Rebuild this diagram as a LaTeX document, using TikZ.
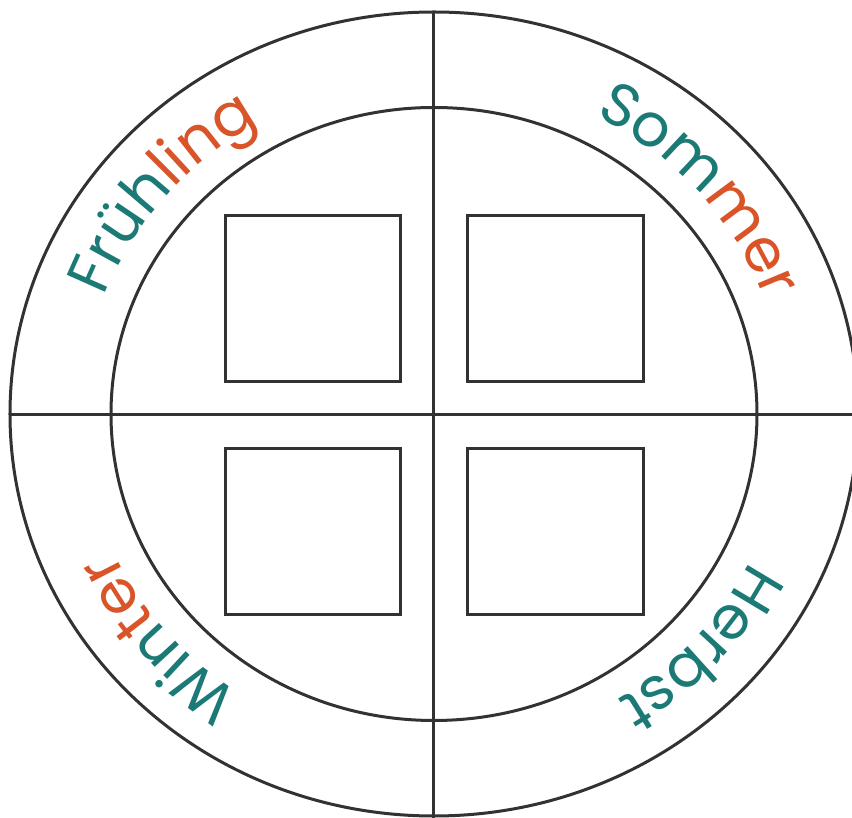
\documentclass[tikz,border=0pt]{standalone}
\usepackage{fontspec}
\newfontfamily\handfnt{Poppins}
\usetikzlibrary{decorations.text}
\definecolor{tealc}{RGB}{28,122,118}
\definecolor{orc}{RGB}{217,84,40}
\definecolor{linec}{RGB}{50,50,50}
\newcommand\hfT{\handfnt\fontsize{60}{62}\selectfont\color{tealc}}
\newcommand\hfO{\handfnt\fontsize{60}{62}\selectfont\color{orc}}
\begin{document}
\begin{tikzpicture}[x=1pt,y=1pt,
  ringline/.style={draw=linec,line width=3pt},
  box/.style={draw=linec,line width=3pt,minimum width=175pt,minimum height=166pt,inner sep=0pt},
  season/.style={decorate,decoration={text along path,text align=center,text={#1}}}]
\useasboundingbox (-434,-404) rectangle (418,414);
\coordinate (c) at (0,0);
\draw[ringline] (c) ellipse [x radius=424, y radius=402];
\draw[ringline] (c) ellipse [x radius=323, y radius=306.5];
\coordinate (top) at (0,402);
\coordinate (bot) at (0,-410);
\coordinate (lft) at (-424,-1);
\coordinate (rgt) at (424,-1);
\draw[ringline] (top) -- (bot);
\draw[ringline] (lft) -- (rgt);
\node[box] (b1) at (-120.5,115) {};
\node[box] (b2) at (121.5,115) {};
\node[box] (b3) at (-120.5,-118) {};
\node[box] (b4) at (121.5,-118) {};
\path[season={|\hfT|Früh|\hfO|ling}] (178:352 and 335) arc[start angle=178, end angle=102, x radius=352, y radius=335];
\path[season={|\hfT|Som|\hfO|mer}] (79:352 and 335) arc[start angle=79, end angle=3, x radius=352, y radius=335];
\path[season={|\hfT|Herbst}] (-4:352 and 335) arc[start angle=-4, end angle=-80, x radius=352, y radius=335];
\path[season={|\hfT|Win|\hfO|ter}] (-102:352 and 335) arc[start angle=-102, end angle=-178, x radius=352, y radius=335];
\end{tikzpicture}
\end{document}
